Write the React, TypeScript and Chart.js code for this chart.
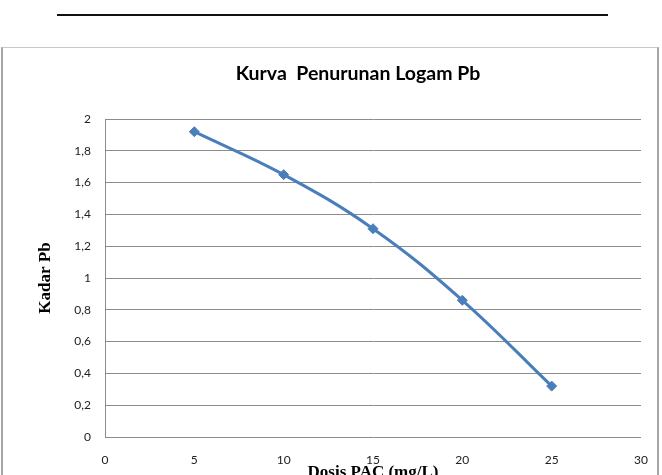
import React, { useEffect, useRef } from "react";
import { Chart, registerables } from "chart.js";

Chart.register(...registerables);

const chartTitle = "Kurva  Penurunan Logam Pb";
const xAxisTitle = "Dosis PAC (mg/L)";
const yAxisTitle = "Kadar Pb";
const dosisPAC = [5, 10, 15, 20, 25];
const kadarPb = [1.92, 1.65, 1.31, 0.86, 0.32];
const xMin = 0;
const xMax = 30;
const xStep = 5;
const yMin = 0;
const yMax = 2;
const yStep = 0.2;

export default function App() {
  const ref = useRef<HTMLCanvasElement | null>(null);

  useEffect(() => {
    if (!ref.current) return;
    const chart = new Chart(ref.current, {
      type: "line",
      data: {
        datasets: [
          {
            label: yAxisTitle,
            data: dosisPAC.map((x, i) => ({ x, y: kadarPb[i] })),
            yAxisID: "y",
            xAxisID: "x",
            borderColor: "#4A7EBB",
            backgroundColor: "#4A7EBB",
            borderWidth: 3,
            tension: 0.4,
            pointStyle: "rectRot",
            pointRadius: 5,
            pointBackgroundColor: "#4A7EBB",
            pointBorderColor: "#4A7EBB",
            pointBorderWidth: 1,
            fill: false,
          },
        ],
      },
      options: {
        responsive: false,
        animation: false,
        devicePixelRatio: 1,
        layout: { padding: { top: 62, right: 0, left: 0, bottom: 0 } },
        plugins: {
          legend: { display: false },
          tooltip: { enabled: false },
          title: {
            display: true,
            text: chartTitle,
            color: "#000",
            font: { family: "Lato", size: 19.5, weight: "bold" },
            padding: { top: 0, bottom: 33.6 },
          },
        },
        scales: {
          x: {
            type: "linear",
            min: xMin,
            max: xMax,
            ticks: {
              stepSize: xStep,
              color: "#222",
              font: { family: "Lato", size: 12 },
              padding: 16,
              maxRotation: 0,
            },
            grid: { display: false, drawTicks: false },
            border: { display: false },
            title: {
              display: true,
              text: xAxisTitle,
              color: "#000",
              font: { family: "Liberation Serif", size: 17, weight: "bold" },
              padding: { top: 0, bottom: 17 },
            },
            afterFit: (s: any) => {
              s.height = 63;
            },
          },
          y: {
            min: yMin,
            max: yMax,
            ticks: {
              stepSize: yStep,
              color: "#222",
              font: { family: "Lato", size: 12 },
              padding: 14,
              callback: (v: any) => String(Math.round(Number(v) * 10) / 10).replace(".", ","),
            },
            grid: { color: "#8c8c8c", lineWidth: 1, drawTicks: false },
            border: { display: true, color: "#8c8c8c", width: 1 },
            title: {
              display: true,
              text: yAxisTitle,
              color: "#000",
              font: { family: "Liberation Serif", size: 17, weight: "bold" },
              padding: { top: 35, bottom: 0 },
            },
            afterFit: (s: any) => {
              s.width = 105;
            },
          },
          spacer: {
            type: "linear",
            position: "right",
            display: true,
            ticks: { display: false },
            grid: { display: false, drawTicks: false },
            border: { display: false },
            afterFit: (s: any) => {
              s.width = 75;
            },
          },
        },
      },
    });
    return () => chart.destroy();
  }, []);

  return (
    <div
      style={{
        position: "fixed",
        left: 0,
        top: 0,
        width: 662,
        height: 475,
        overflow: "hidden",
        background: "#fff",
      }}
    >
      <div
        style={{
          position: "absolute",
          left: 57,
          top: 14,
          width: 551,
          height: 2,
          background: "#111",
        }}
      />
      <div
        style={{
          position: "absolute",
          left: 1,
          top: 47,
          width: 654,
          height: 460,
          borderTop: "1px solid #c8c8c8",
          borderLeft: "2px solid #a6a6a6",
          borderRight: "2px solid #a6a6a6",
        }}
      />
      <canvas
        ref={ref}
        width={716}
        height={500}
        style={{ position: "absolute", left: 0, top: 0, width: 716, height: 500 }}
      />
    </div>
  );
}
